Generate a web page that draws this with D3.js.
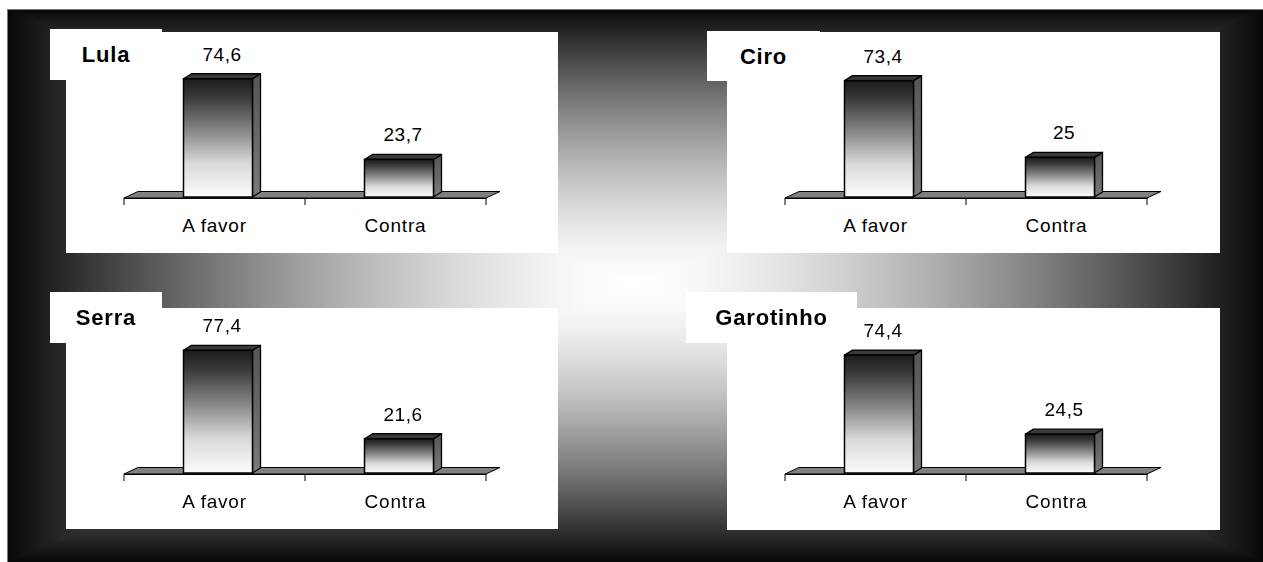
<!DOCTYPE html>
<html><head><meta charset="utf-8">
<script src="https://cdn.jsdelivr.net/npm/d3@7/dist/d3.min.js"></script>
<style>
html,body{margin:0;padding:0;background:#fff;}
#wrap{position:relative;width:1263px;height:562px;overflow:hidden;}
canvas,svg{position:absolute;left:0;top:0;}
</style></head>
<body><div id="wrap"><canvas id="bg" width="1263" height="562"></canvas><svg id="chart" width="1263" height="562"></svg></div>
<script>
// ---- data ----
const candidates = ["Lula", "Ciro", "Serra", "Garotinho"];
const categories = ["A favor", "Contra"];
const aFavor = [74.6, 73.4, 77.4, 74.4];
const contra = [23.7, 25, 21.6, 24.5];

// ---- layout (positions only) ----
const W = 1263, H = 562;
const bgRect = {x0: 7, y0: 9, x1: 1263, y1: 562};
const panels = [
  {x: 66,  y: 32,  w: 492, h: 221, tb: {x: 50,  y: 29,  w: 112, h: 51}},
  {x: 727, y: 32,  w: 493, h: 221, tb: {x: 707, y: 31,  w: 113, h: 50}},
  {x: 66,  y: 308, w: 492, h: 221, tb: {x: 50,  y: 292, w: 112, h: 51}},
  {x: 727, y: 308, w: 493, h: 222, tb: {x: 686, y: 292, w: 171, h: 51}}
];

// ---- background: rectangular gradient from center ----
(function(){
  const c = document.getElementById('bg').getContext('2d');
  const img = c.createImageData(W, H);
  const cx = (bgRect.x0 + bgRect.x1) / 2, cy = (bgRect.y0 + bgRect.y1) / 2;
  const hw = (bgRect.x1 - bgRect.x0) / 2, hh = (bgRect.y1 - bgRect.y0) / 2;
  for (let y = 0; y < H; y++) {
    for (let x = 0; x < W; x++) {
      const i = (y * W + x) * 4;
      let v = 255;
      if (x >= bgRect.x0 && y >= bgRect.y0) {
        const t = Math.min(1, Math.max(Math.abs(x + 0.5 - cx) / hw, Math.abs(y + 0.5 - cy) / hh));
        v = 8 + 247 * (1 - Math.pow(t, 1.5));
        if (y === bgRect.y0 || x === bgRect.x0) v = 120;
      }
      img.data[i] = img.data[i+1] = img.data[i+2] = v;
      img.data[i+3] = 255;
    }
  }
  c.putImageData(img, 0, 0);
})();

// ---- chart ----
const svg = d3.select('#chart');
const defs = svg.append('defs');
const g1 = defs.append('linearGradient').attr('id', 'barGrad').attr('x1', 0).attr('y1', 0).attr('x2', 0).attr('y2', 1);
[[0, '#1c1c1c'], [0.15, '#383838'], [0.45, '#8a8a8a'], [0.72, '#dadada'], [1, '#fbfbfb']]
  .forEach(s => g1.append('stop').attr('offset', s[0]).attr('stop-color', s[1]));
const g2 = defs.append('linearGradient').attr('id', 'sideGrad').attr('x1', 0).attr('y1', 0).attr('x2', 0).attr('y2', 1);
[[0, '#555'], [1, '#7a7a7a']].forEach(s => g2.append('stop').attr('offset', s[0]).attr('stop-color', s[1]));

const font = "'Liberation Sans', Arial, sans-serif";
const depth = {dx: 8, dy: -5};
const floorDepth = {dx: 14, dy: -6.5};
const barW = 69;

candidates.forEach((name, k) => {
  const p = panels[k];
  const vals = [aFavor[k], contra[k]];
  const g = svg.append('g');
  // white panel + title box
  g.append('rect').attr('x', p.x).attr('y', p.y).attr('width', p.w).attr('height', p.h).attr('fill', '#fff');
  g.append('rect').attr('x', p.tb.x).attr('y', p.tb.y).attr('width', p.tb.w).attr('height', p.tb.h).attr('fill', '#fff');
  g.append('text').attr('x', p.tb.x + p.tb.w / 2).attr('y', p.tb.y + 33)
    .attr('text-anchor', 'middle').attr('font-family', font).attr('font-weight', 'bold')
    .attr('font-size', 22).attr('letter-spacing', 0.8).attr('fill', '#000').text(name);

  const pg = g.append('g').attr('transform', `translate(${p.x},${p.y})`);
  const x = d3.scaleBand().domain(categories).range([58, 420]).padding(0);
  const base = 166;
  const y = d3.scaleLinear().domain([0, 80]).range([base - 1, base - 1 - 126.8]);

  // floor
  const fl = [[58, base], [58 + floorDepth.dx, base + floorDepth.dy], [420 + floorDepth.dx, base + floorDepth.dy], [420, base]];
  pg.append('path').attr('d', d3.line()(fl) + 'Z').attr('fill', '#808080').attr('stroke', '#000').attr('stroke-width', 1);

  // axis with ticks
  const axis = d3.axisBottom(x).tickSize(0).tickFormat('');
  const ax = pg.append('g').attr('transform', `translate(0,${base})`).call(axis);
  ax.select('.domain').attr('stroke', '#000').attr('stroke-width', 1.2);
  const edges = [x.range()[0]].concat(categories.map(c => x(c) + x.bandwidth()));
  pg.selectAll('.tk').data(edges).enter().append('line')
    .attr('x1', d => d).attr('x2', d => d).attr('y1', base).attr('y2', base + 7)
    .attr('stroke', '#000').attr('stroke-width', 1);
  // category labels
  pg.selectAll('.cat').data(categories).enter().append('text')
    .attr('x', d => x(d) + x.bandwidth() / 2).attr('y', 200)
    .attr('text-anchor', 'middle').attr('font-family', font).attr('font-size', 19)
    .attr('letter-spacing', 0.8).attr('fill', '#000').text(d => d);

  // bars
  categories.forEach((c, i) => {
    const v = vals[i];
    const bx = x(c) + (x.bandwidth() - barW) / 2 + 3.5;
    const top = y(v), bot = y(0);
    const dx = depth.dx, dy = depth.dy;
    pg.append('path').attr('d', d3.line()([[bx + barW, top], [bx + barW + dx, top + dy], [bx + barW + dx, bot + dy], [bx + barW, bot]]) + 'Z')
      .attr('fill', 'url(#sideGrad)').attr('stroke', '#000').attr('stroke-width', 1.3).attr('stroke-linejoin', 'round');
    pg.append('path').attr('d', d3.line()([[bx, top], [bx + dx, top + dy], [bx + barW + dx, top + dy], [bx + barW, top]]) + 'Z')
      .attr('fill', '#3a3a3a').attr('stroke', '#000').attr('stroke-width', 1.3).attr('stroke-linejoin', 'round');
    pg.append('rect').attr('x', bx).attr('y', top).attr('width', barW).attr('height', bot - top)
      .attr('fill', 'url(#barGrad)').attr('stroke', '#000').attr('stroke-width', 1.5);
    pg.append('text').attr('x', bx + barW / 2 + dx / 2).attr('y', top - 18)
      .attr('text-anchor', 'middle').attr('font-family', font).attr('font-size', 19)
      .attr('letter-spacing', 0.5).attr('fill', '#000').text(String(v).replace('.', ','));
  });
});
</script></body></html>
